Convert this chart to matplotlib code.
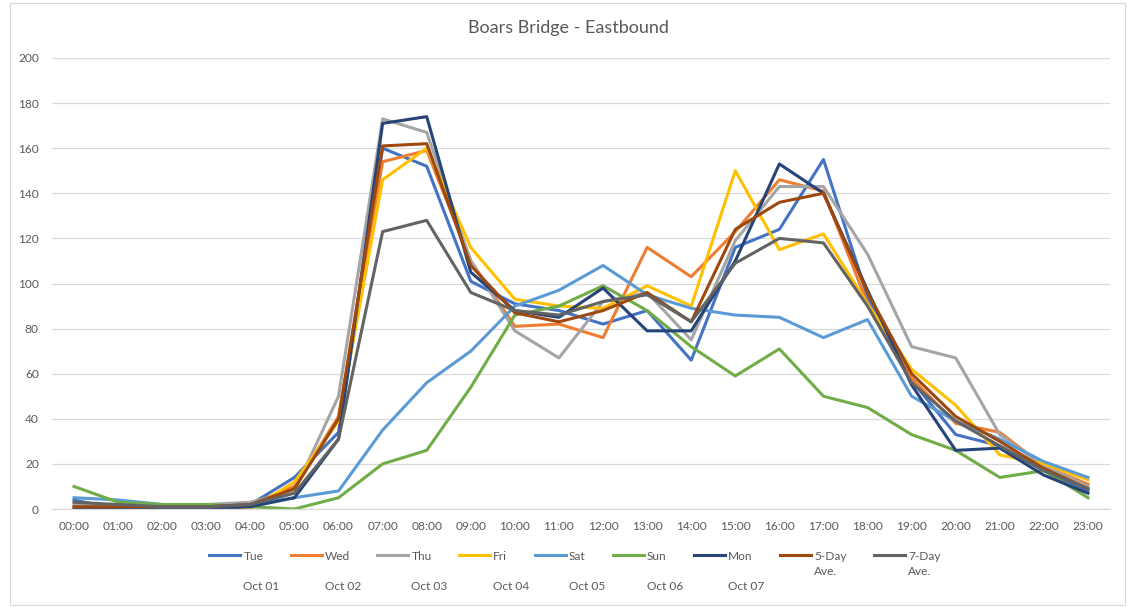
import matplotlib
matplotlib.use("Agg")
import matplotlib.pyplot as plt
from matplotlib.patches import Rectangle

# Hourly eastbound counts
hours = [f"{h:02d}:00" for h in range(24)]

tue = [4, 0, 0, 0, 2, 14, 34, 160, 152, 101, 91, 88, 82, 88, 66, 116, 124, 155, 94, 57, 33, 28, 17, 8]
wed = [1, 1, 1, 1, 2, 10, 41, 154, 159, 110, 81, 82, 76, 116, 103, 123, 146, 141, 91, 58, 38, 34, 19, 11]
thu = [2, 1, 1, 2, 3, 8, 50, 173, 167, 110, 79, 67, 92, 96, 75, 119, 143, 143, 113, 72, 67, 33, 19, 10]
fri = [0, 0, 0, 0, 0, 12, 39, 146, 160, 116, 93, 90, 89, 99, 90, 150, 115, 122, 91, 62, 46, 24, 20, 13]
sat = [5, 4, 2, 1, 2, 5, 8, 35, 56, 70, 90, 97, 108, 95, 89, 86, 85, 76, 84, 50, 39, 31, 21, 14]
sun = [10, 3, 2, 2, 1, 0, 5, 20, 26, 54, 86, 90, 99, 88, 72, 59, 71, 50, 45, 33, 26, 14, 17, 5]
mon = [0, 0, 0, 0, 1, 5, 31, 171, 174, 105, 88, 85, 98, 79, 79, 110, 153, 140, 97, 55, 26, 27, 15, 7]
avg5 = [1, 1, 1, 1, 2, 9, 40, 161, 162, 108, 87, 83, 88, 96, 83, 124, 136, 140, 96, 60, 41, 30, 18, 9]
avg7 = [3, 2, 1, 1, 2, 7, 31, 123, 128, 96, 88, 86, 92, 95, 83, 109, 120, 118, 90, 56, 39, 28, 17, 9]

series_names = ["Tue", "Wed", "Thu", "Fri", "Sat", "Sun", "Mon", "5-Day", "7-Day"]
series_values = [tue, wed, thu, fri, sat, sun, mon, avg5, avg7]
series_colors = ["#4472C4", "#ED7D31", "#A5A5A5", "#FFC000", "#5B9BD5",
                 "#70AD47", "#264478", "#9E480E", "#636363"]
dates = ["Oct 01", "Oct 02", "Oct 03", "Oct 04", "Oct 05", "Oct 06", "Oct 07"]

plt.rcParams["font.family"] = ["Lato", "DejaVu Sans"]
text_color = "#595959"
grid_color = "#D9D9D9"

W, H = 1128, 607
fig = plt.figure(figsize=(W / 100, H / 100), dpi=100)
ax = fig.add_axes([52 / W, 1 - 509 / H, (1110 - 52) / W, (509 - 58) / H])

x = list(range(len(hours)))
for name, vals, col in zip(series_names, series_values, series_colors):
    ax.plot(x, vals, color=col, lw=2.2, label=name, solid_joinstyle="round")

ax.set_xlim(-0.5, len(hours) - 0.5)
ax.set_ylim(0, 200)
ax.set_yticks(range(0, 201, 20))
ax.set_xticks(x)
ax.set_xticklabels(hours)
ax.grid(axis="y", color=grid_color, lw=0.9)
ax.set_axisbelow(True)
for s in ["top", "right", "left"]:
    ax.spines[s].set_visible(False)
ax.spines["bottom"].set_color(grid_color)
ax.spines["bottom"].set_linewidth(0.9)
ax.tick_params(axis="both", length=0, labelsize=8.6, colors=text_color)
ax.tick_params(axis="x", pad=9)
ax.tick_params(axis="y", pad=9.5)

fig.text(0.5035, 1 - 28 / H, "Boars Bridge - Eastbound", ha="center", va="center",
         fontsize=13, color=text_color)

leg = fig.legend(loc="center", bbox_to_anchor=(575 / W, 1 - 556 / H), ncol=9,
                 frameon=False, fontsize=8.6, handlelength=2.6, handletextpad=0.25,
                 columnspacing=2.3, labelcolor=text_color)

# second and third lines under the legend entries
fig.canvas.draw()
renderer = fig.canvas.get_renderer()
inv = fig.transFigure.inverted()
texts = leg.get_texts()
for i, t in enumerate(texts):
    bb = t.get_window_extent(renderer)
    x0, yc = bb.x0, (bb.y0 + bb.y1) / 2
    if series_names[i] in ("5-Day", "7-Day"):
        fx, fy = inv.transform((x0, yc - 15.5))
        fig.text(fx, fy, "Ave.", ha="left", va="center", fontsize=8.6, color=text_color)
    if i < len(dates):
        fx, fy = inv.transform((x0, yc - 31))
        fig.text(fx, fy, dates[i], ha="left", va="center", fontsize=8.6, color=text_color)

# chart border
fig.patches.append(Rectangle((10 / W, 1 - 605 / H), (1125 - 10) / W, (605 - 3) / H,
                             transform=fig.transFigure, fill=False,
                             edgecolor=grid_color, lw=0.9))

fig.savefig("out.png", dpi=100)
